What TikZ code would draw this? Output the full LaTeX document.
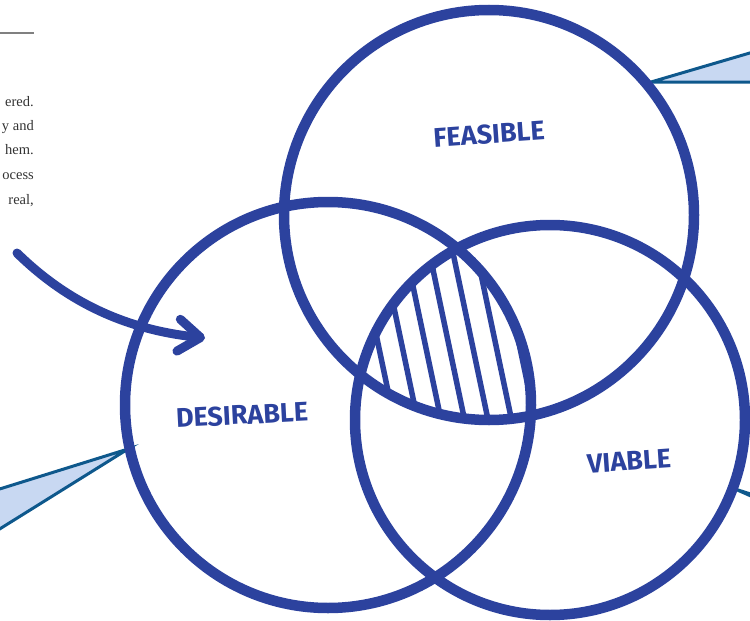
\documentclass[tikz,border=0pt]{standalone}
\usepackage{fontspec}
\setsansfont{Fira Sans}
\setmainfont{Liberation Serif}
\RequirePackage{xcolor}
\tikzset{every picture/.style={/utils/exec={\sffamily}}}
\usetikzlibrary{calc}
\usetikzlibrary{positioning}
\usetikzlibrary{arrows.meta}

\definecolor{vennblue}{RGB}{44,66,158}
\definecolor{calloutline}{RGB}{14,88,140}
\definecolor{calloutfill}{RGB}{200,216,242}

\begin{document}
\begin{tikzpicture}[x=1pt, y=-1pt,
  ring/.style={draw=vennblue, line width=10.5pt},
  hatchline/.style={draw=vennblue, line width=5.5pt},
  tag/.style={text=vennblue, font=\sffamily\bfseries\fontsize{27}{27}\selectfont},
  callout/.style={draw=calloutline, fill=calloutfill, line width=3pt},
  margintext/.style={anchor=base east, inner sep=0pt, text=black!80, font=\rmfamily\fontsize{14.5}{14.5}\selectfont}]

  \useasboundingbox (0,0) rectangle (750,621);

  % text column on the left
  \coordinate (rule left) at (0,33);
  \coordinate (rule right) at (34,33);
  \draw [black!50, line width=2.5pt] (rule left) -- (rule right);
  \foreach \y/\txt in {102/ered.,126/y and,150/hem.,175/ocess,200/{real,}} {
    \node [margintext] (margin \y) at (34,\y+4) {\txt};
  }

  % callouts
  \coordinate (feasible tip) at (651,82);
  \coordinate (desirable tip) at (128,449);
  \coordinate (viable tip) at (735,489);
  \filldraw [callout] (feasible tip) -- (760,50) -- (760,82) -- cycle;
  \filldraw [callout] (desirable tip) -- (-10,492) -- (-10,535) -- cycle;
  \filldraw [callout] (viable tip) -- (760,497) -- (760,500) -- cycle;

  % hatching of the middle
  \begin{scope}
    \clip (489,215) circle [radius=205];
    \clip (328,405) circle [radius=203];
    \clip (550,420) circle [radius=195];
    \foreach \k in {-2,...,8} {
      \draw [hatchline] ({392+23.5*\k-0.21*210},200) -- ({392+23.5*\k+0.21*30},440);
    }
  \end{scope}

  % the three circles
  \foreach \cx/\cy/\r in {489/215/205,328/405/203,550/420/195} {
    \draw [ring] (\cx,\cy) circle [radius=\r];
  }

  \node [tag, rotate=4] (feasible) at (489,134) {FEASIBLE};
  \node [tag, rotate=3] (desirable) at (242,415) {DESIRABLE};
  \node [tag, rotate=4] (viable) at (629,461) {VIABLE};

  % arrow into the left circle
  \coordinate (arrow start) at (17,253);
  \coordinate (arrow end) at (205,338);
  \draw [vennblue, line width=9pt, line cap=round,
    -{Straight Barb[length=22pt, width=32pt, round]}]
    (arrow start) .. controls (70,305) and (130,330) .. (arrow end);

\end{tikzpicture}
\end{document}
